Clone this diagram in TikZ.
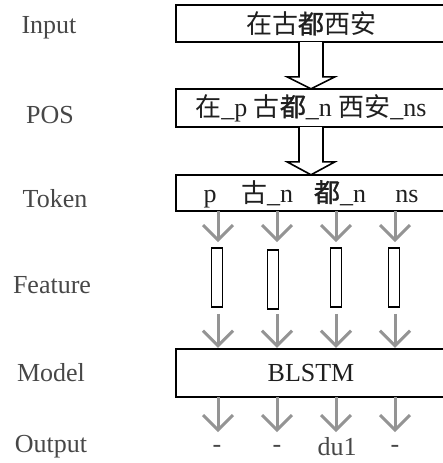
\documentclass[tikz,border=0pt]{standalone}
\usepackage{fontspec}
\setmainfont{Liberation Serif}
\newfontfamily\cjk{Noto Sans CJK SC}
\newfontfamily\cjkb[FakeBold=1.2]{Noto Sans CJK SC}
\usetikzlibrary{arrows.meta,calc}

\begin{document}
\begin{tikzpicture}[x=1pt,y=-1pt,
        font=\fontsize{26}{30}\selectfont,
        box/.style={minimum width=270pt,inner sep=0pt,text=black!88},
        edge/.style={line width=1.6pt},
        lbl/.style={text=black!72},
        tok/.style={text=black!88,anchor=base},
        hollow/.style={draw,line width=1.6pt,fill=white,line join=miter},
        feat/.style={draw,line width=1.6pt,minimum width=11pt,minimum height=59pt,inner sep=0pt},
        flow/.style={draw=black!42,line width=3pt,-{Straight Barb[width=30pt,length=15pt]}}]
    \useasboundingbox (0,0) rectangle (443,463);
    \node[lbl] (lin) at (49,28) {Input};
    \node[lbl] (lpos) at (50,115) {POS};
    \node[lbl] (ltok) at (55,199) {Token};
    \node[lbl] (lfeat) at (52,285) {Feature};
    \node[lbl] (lmod) at (51,373) {Model};
    \node[lbl] (lout) at (51,447) {Output};

    \node[box,minimum height=37pt] (input) at (311,23.5) {\cjk 在古{\cjkb 都}西安};
    \node[box,minimum height=38pt] (pos) at (311,108) {{\cjk 在}\_p {\cjk 古{\cjkb 都}}\_n {\cjk 西安}\_ns};
    \node[box,minimum height=36pt] (token) at (311,193) {};
    \node[box,minimum height=48pt] (model) at (311,373) {BLSTM};
    \foreach \b in {input,pos,token,model}
        \draw[edge] (443,0 |- \b.north) -- (\b.north west) -- (\b.south west) -- (443,0 |- \b.south);

    \draw[hollow] ($(input.south)+(-12,0)$) -- ($(pos.north)+(-12,-12)$) -- ($(pos.north)+(-24,-12)$)
        -- (pos.north) -- ($(pos.north)+(24,-12)$) -- ($(pos.north)+(12,-12)$) -- ($(input.south)+(12,0)$);
    \draw[hollow] ($(pos.south)+(-12,0)$) -- ($(token.north)+(-12,-13)$) -- ($(token.north)+(-24,-13)$)
        -- (token.north) -- ($(token.north)+(24,-13)$) -- ($(token.north)+(12,-13)$) -- ($(pos.south)+(12,0)$);

    \node[tok] (t1) at (210,202) {p};
    \node[tok] (t2) at (267,202) {{\cjk 古}\_n};
    \node[tok] (t3) at (340,202) {{\cjkb 都}\_n};
    \node[tok] (t4) at (407,202) {ns};

    \coordinate (c1) at (218,211);
    \coordinate (c2) at (277,211);
    \coordinate (c3) at (336,211);
    \coordinate (c4) at (395,211);

    \node[feat] (f1) at (217,277.5) {};
    \node[feat] (f2) at (273,279.5) {};
    \node[feat] (f3) at (336,277.5) {};
    \node[feat] (f4) at (394,277.5) {};

    \node[lbl] (o1) at (217,449) {-};
    \node[lbl] (o2) at (277,449) {-};
    \node[lbl] (o3) at (337,447) {du1};
    \node[lbl] (o4) at (395,449) {-};

    \foreach \i in {1,...,4} {
        \draw[flow] (c\i) -- ($(c\i |- f1.north)+(0,-5)$);
        \draw[flow] ($(c\i |- f1.south)+(0,6)$) -- ($(c\i |- model.north)+(0,-1)$);
        \draw[flow] (c\i |- model.south) -- ($(c\i |- model.south)+(0,35)$);
    }
\end{tikzpicture}
\end{document}
